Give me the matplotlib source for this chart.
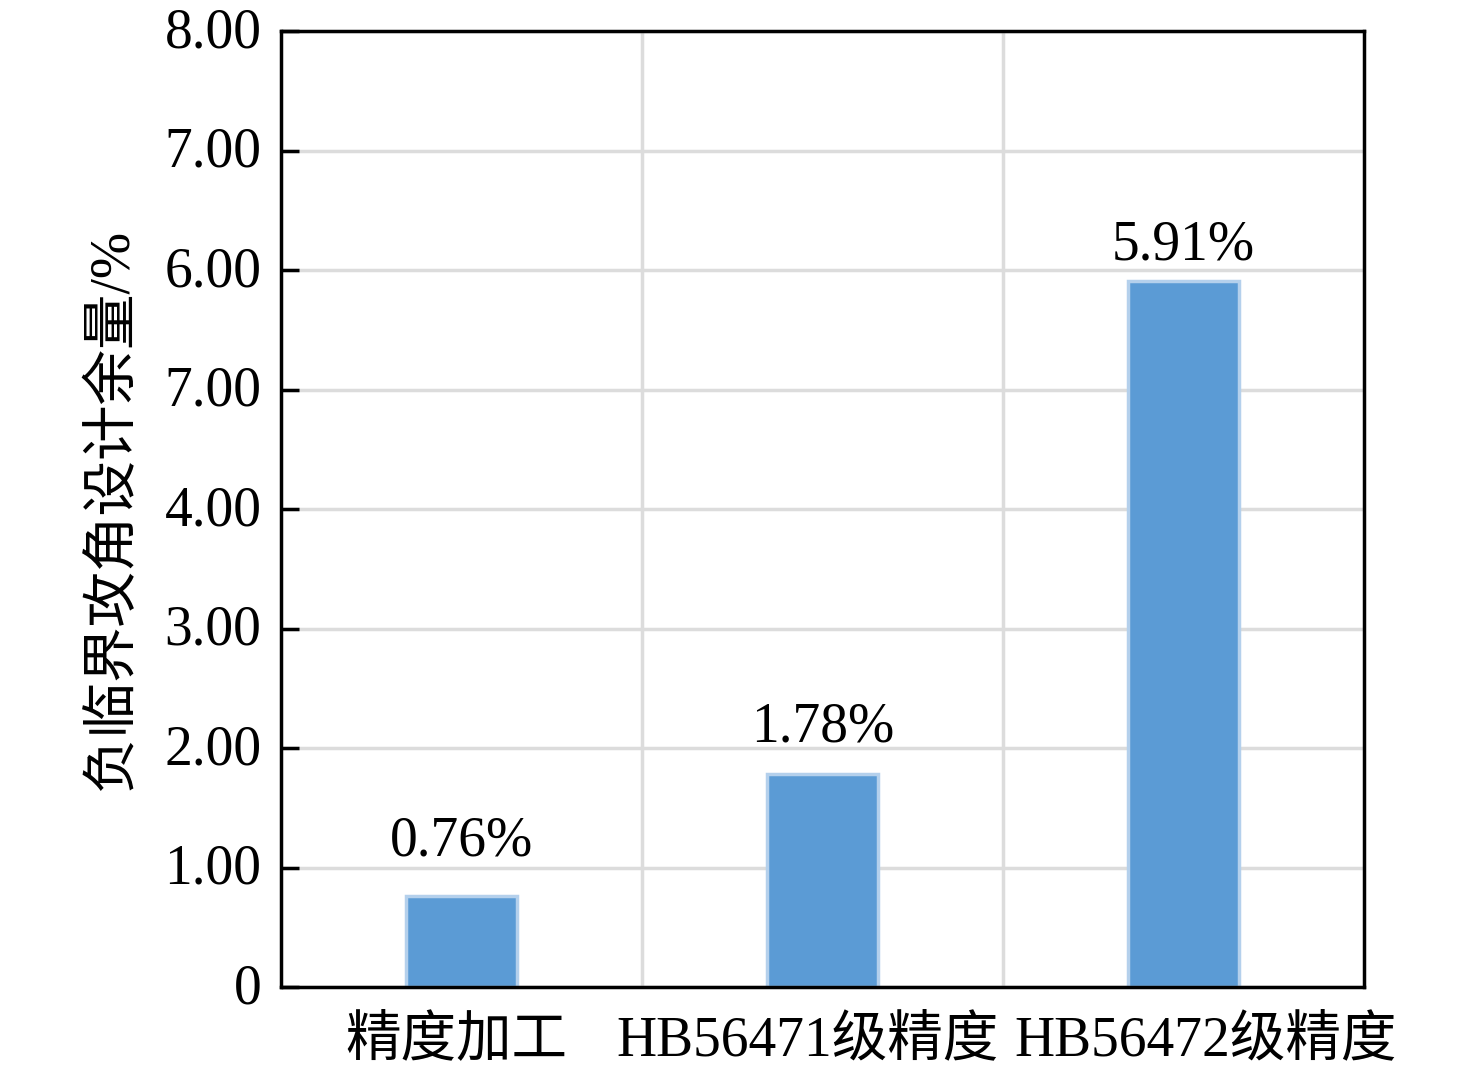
import matplotlib
matplotlib.use("Agg")
import matplotlib.pyplot as plt
import matplotlib.transforms as mtransforms
import numpy as np

categories = ["精度加工", "HB56471级精度", "HB56472级精度"]
values = [0.76, 1.78, 5.91]
value_labels = ["0.76%", "1.78%", "5.91%"]
y_ticks = [0, 1, 2, 3, 4, 5, 6, 7, 8]
y_tick_labels = ["0", "1.00", "2.00", "3.00", "4.00", "7.00", "6.00", "7.00", "8.00"]
y_label = "负临界攻角设计余量/%"

plt.rcParams['font.family'] = ['Liberation Serif', 'Noto Sans CJK SC']
plt.rcParams['axes.unicode_minus'] = False

fig = plt.figure(figsize=(14.76, 10.74), dpi=100)
ax = fig.add_axes([0.1904, 0.081, 0.9241 - 0.1904, 0.9711 - 0.081])

x = np.arange(len(categories))
ax.bar(x, values, width=0.31, color="#5B9BD5", edgecolor="#B4D0EC", linewidth=2.5, zorder=3)
label_gap_px = [29, 21, 9]  # pixel gap between bar top and value label box, as in reference
for xi, v, lab, gap in zip(x, values, value_labels, label_gap_px):
    ax.annotate(lab, (xi, v), xytext=(0, gap * 0.72), textcoords="offset points",
                ha="center", va="bottom", fontsize=40, zorder=4)

ax.set_xlim(-0.5, len(categories) - 0.5)
ax.set_ylim(0, 8)
ax.set_yticks(y_ticks)
ax.set_yticklabels(y_tick_labels, fontsize=40)
ax.set_xticks(x)
ax.set_xticklabels(categories, fontsize=40)
ax.set_xticks(np.arange(0.5, len(categories) - 0.5, 1), minor=True)
ax.tick_params(axis="y", direction="in", length=13, width=2.5, pad=14)
ax.tick_params(axis="x", which="both", length=0, pad=20)
# small horizontal shifts of category labels as in the reference
shifts_px = [-5, -15, 22]
for lbl, dx in zip(ax.get_xticklabels(), shifts_px):
    lbl.set_transform(lbl.get_transform() + mtransforms.ScaledTranslation(dx / 100, 0, fig.dpi_scale_trans))
for lbl in ax.get_yticklabels():
    lbl.set_transform(lbl.get_transform() + mtransforms.ScaledTranslation(0, 0.04, fig.dpi_scale_trans))
ax.grid(axis="y", which="major", color="#DCDCDC", linewidth=2.5, zorder=0)
ax.grid(axis="x", which="minor", color="#DCDCDC", linewidth=2.5, zorder=0)
ax.grid(axis="x", which="major", visible=False)
for s in ax.spines.values():
    s.set_linewidth(2.5)
    s.set_color("black")
    s.set_zorder(5)
ax.set_ylabel(y_label, fontsize=40, labelpad=18)

fig.savefig("out.png", dpi=100)
